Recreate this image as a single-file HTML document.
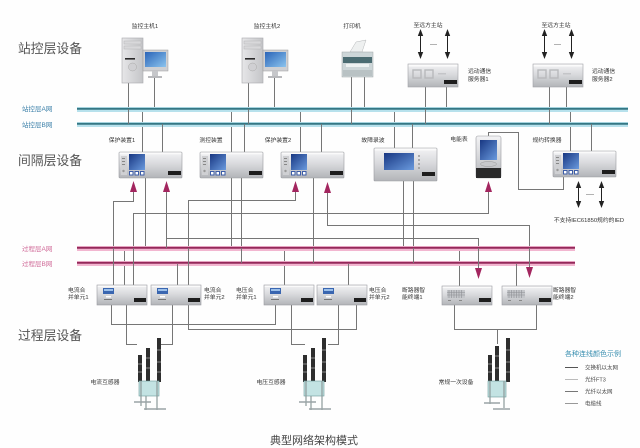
<!DOCTYPE html>
<html><head><meta charset="utf-8">
<style>
html,body{margin:0;padding:0;background:#fff;}
svg{display:block;}
text{font-family:"Liberation Sans","Noto Sans CJK SC",sans-serif;}
</style></head><body>
<svg width="640" height="448" viewBox="0 0 640 448" xmlns="http://www.w3.org/2000/svg">
<defs>
 <linearGradient id="dev" x1="0" y1="0" x2="0" y2="1">
  <stop offset="0" stop-color="#f3f3f5"/><stop offset="0.45" stop-color="#d9dadd"/><stop offset="1" stop-color="#b2b4b8"/>
 </linearGradient>
 <linearGradient id="scr" x1="0" y1="0" x2="1" y2="1">
  <stop offset="0" stop-color="#183782"/><stop offset="1" stop-color="#6a9ade"/>
 </linearGradient>
 <linearGradient id="mon" x1="0" y1="0" x2="1" y2="1">
  <stop offset="0" stop-color="#2a64b8"/><stop offset="1" stop-color="#8cc4ee"/>
 </linearGradient>
 <linearGradient id="twr" x1="0" y1="0" x2="1" y2="0">
  <stop offset="0" stop-color="#e6e6e8"/><stop offset="1" stop-color="#c4c5c8"/>
 </linearGradient>
 <g id="bay">
  <rect x="0" y="0" width="63" height="26" rx="1" fill="url(#dev)" stroke="#9a9ca0" stroke-width="0.6"/>
  <rect x="0.5" y="0.5" width="62" height="1.8" fill="#fafafa"/>
  <rect x="2" y="4" width="6" height="19" fill="#cfd0d3"/>
  <rect x="3" y="6" width="3" height="1" fill="#888"/>
  <rect x="3" y="9" width="3" height="1" fill="#888"/>
  <rect x="3" y="12" width="3" height="1" fill="#888"/>
  <circle cx="4.5" cy="19" r="1.2" fill="#999"/>
  <rect x="10" y="2" width="16" height="16" fill="url(#scr)"/>
  <rect x="10" y="19" width="4.5" height="4.5" fill="#3b5ca8"/><rect x="11" y="20" width="2.5" height="2.5" fill="#fff"/>
  <rect x="15.5" y="19" width="4.5" height="4.5" fill="#3b5ca8"/><rect x="16.5" y="20" width="2.5" height="2.5" fill="#fff"/>
  <rect x="21" y="19" width="4.5" height="4.5" fill="#3b5ca8"/><rect x="22" y="20" width="2.5" height="2.5" fill="#fff"/>
  <rect x="49" y="19" width="13" height="4" fill="#1e1e1e"/>
 </g>
 <g id="mu">
  <rect x="0" y="0" width="50" height="20" fill="url(#dev)" stroke="#9a9ca0" stroke-width="0.6"/>
  <rect x="0.5" y="0.5" width="49" height="1.5" fill="#fafafa"/>
  <rect x="6" y="3" width="11" height="6" fill="#3a66b0"/>
  <rect x="7" y="4" width="9" height="2" fill="#9cc0ea"/>
  <rect x="9" y="11" width="5" height="1.5" fill="#fff"/>
  <rect x="7" y="14" width="8" height="1" fill="#777"/>
  <rect x="37" y="13" width="12" height="4" fill="#1e1e1e"/>
 </g>
 <g id="brk">
  <rect x="0" y="0" width="50" height="19" fill="url(#dev)" stroke="#9a9ca0" stroke-width="0.6"/>
  <rect x="0.5" y="0.5" width="49" height="1.5" fill="#fafafa"/>
  <rect x="5" y="4" width="18" height="8" fill="#c4c6ca"/>
  <path d="M7 4v8M9.5 4v8M12 4v8M14.5 4v8M17 4v8M19.5 4v8M5 6.5h18M5 9h18" stroke="#8e9094" stroke-width="0.6"/>
  <rect x="6" y="14" width="3" height="1" fill="#888"/>
  <rect x="17" y="14" width="3" height="1" fill="#888"/>
  <rect x="37" y="12" width="12" height="4" fill="#1e1e1e"/>
 </g>
 <g id="srv">
  <rect x="0" y="0" width="50" height="23" fill="url(#dev)" stroke="#a0a2a6" stroke-width="0.6"/>
  <rect x="0.5" y="0.5" width="49" height="2" fill="#fbfbfb"/>
  <rect x="5" y="6" width="8" height="8" fill="none" stroke="#b8b9bc" stroke-width="1.4"/>
  <rect x="17" y="6" width="8" height="8" fill="none" stroke="#b8b9bc" stroke-width="1.4"/>
  <rect x="30" y="9" width="8" height="1.5" fill="#c4c5c8"/>
  <rect x="36" y="16" width="13" height="4" fill="#1e1e1e"/>
 </g>
</defs>

<rect width="640" height="448" fill="#fefefe"/>

<!-- headings -->
<text x="18" y="53" font-size="12.8" fill="#555">站控层设备</text>
<text x="18" y="165" font-size="12.8" fill="#555">间隔层设备</text>
<text x="18" y="340" font-size="12.8" fill="#555">过程层设备</text>

<text x="22" y="111" font-size="6.5" fill="#3a7fa8">站控层A网</text>
<text x="22" y="127" font-size="6.5" fill="#3a7fa8">站控层B网</text>
<text x="22" y="251" font-size="6.5" fill="#d06a98">过程层A网</text>
<text x="22" y="266" font-size="6.5" fill="#d06a98">过程层B网</text>

<!-- connectors (gray) -->
<g stroke="#767676" stroke-width="1" fill="none">
 <path d="M128.5 83V124M154.5 78V109M248.5 83V124M274.5 78V109M351.5 76V124M364.5 76V109M425.5 87V124M446.5 87V109M549.5 87V124M566.5 87V109"/>
 <path d="M142.5 109V152M162.5 124V152M231.5 109V152M244.5 124V152M300.5 109V152M321.5 124V152M394.5 109V148M412.5 124V148M570.5 109V151M591.5 124V151"/>
 <path d="M145.5 178V248M231.5 178V248M241.5 178V264M313.5 178V264M403.5 181V248M413.5 181V264"/>
 <path d="M133.5 192V201.5H113.5V285"/>
 <path d="M488.5 192V213.5H133.5V285"/>
 <path d="M166.5 192V238.5H478.5V269"/>
 <path d="M295.5 192V200.5H188.5V285"/>
 <path d="M327.5 192V225.5H529.5V268"/>
 <path d="M488.5 136V132.5H518.5V189.5H563.5V176"/>
 <path d="M124.5 248V285M177.5 264V285M284.5 248V285M348.5 264V285M459.5 248V286M516.5 264V286"/>
 <path d="M111.5 305V324.5H275.5V305"/>
 <path d="M126.5 305V344.5H137"/>
 <path d="M172.5 305V344.5H161"/>
 <path d="M188.5 305V329.5H356.5V305"/>
 <path d="M291.5 305V344.5H305"/>
 <path d="M338.5 305V344.5H328"/>
 <path d="M454.5 305V329.5H536.5V305M497.5 329V344"/>
</g>

<!-- network buses -->
<g>
 <line x1="77" y1="109.5" x2="628" y2="109.5" stroke="#b7e1ec" stroke-width="5"/>
 <line x1="77" y1="108.8" x2="628" y2="108.8" stroke="#357784" stroke-width="1.8"/>
 <line x1="77" y1="124.5" x2="628" y2="124.5" stroke="#b7e1ec" stroke-width="5"/>
 <line x1="77" y1="123.8" x2="628" y2="123.8" stroke="#357784" stroke-width="1.8"/>
 <line x1="77" y1="248.5" x2="575" y2="248.5" stroke="#f2b6d0" stroke-width="5"/>
 <line x1="77" y1="247.8" x2="575" y2="247.8" stroke="#94285a" stroke-width="1.8"/>
 <line x1="77" y1="263.5" x2="575" y2="263.5" stroke="#f2b6d0" stroke-width="5"/>
 <line x1="77" y1="262.8" x2="575" y2="262.8" stroke="#94285a" stroke-width="1.8"/>
</g>
<g stroke="#767676" stroke-width="1">
 <path d="M128.5 109V124M248.5 109V124M351.5 109V124M425.5 109V124M549.5 109V124M162.5 124V127M244.5 124V127M321.5 124V127M412.5 124V127M591.5 124V127"/>
 <path d="M241.5 248V263M313.5 248V263M413.5 248V263M133.5 248V285M113.5 248V285M188.5 248V285M166.5 248V238M478.5 248V269M529.5 248V268M177.5 264V267M348.5 264V267M516.5 264V267"/>
</g>

<!-- PC1 -->
<g>
 <rect x="122" y="38" width="21" height="45" fill="url(#twr)" stroke="#a8a9ac" stroke-width="0.6"/>
 <rect x="124" y="41" width="17" height="3" fill="#d8d8da" stroke="#b0b0b0" stroke-width="0.4"/>
 <rect x="124" y="46" width="17" height="3" fill="#d8d8da" stroke="#b0b0b0" stroke-width="0.4"/>
 <rect x="125" y="58" width="10" height="1.6" fill="#2a2a2a"/>
 <circle cx="132.5" cy="67" r="4" fill="#d0d0d3" stroke="#aaa" stroke-width="0.5"/>
 <rect x="143" y="50" width="25" height="21" fill="#cfd0d3" stroke="#9a9a9a" stroke-width="0.5"/>
 <rect x="145" y="52" width="21" height="15" fill="url(#mon)"/>
 <rect x="152" y="71" width="6" height="5" fill="#c6c7ca"/>
 <rect x="148" y="76" width="14" height="2" fill="#b8b9bc"/>
</g>
<!-- PC2 -->
<g>
 <rect x="242" y="38" width="21" height="45" fill="url(#twr)" stroke="#a8a9ac" stroke-width="0.6"/>
 <rect x="244" y="41" width="17" height="3" fill="#d8d8da" stroke="#b0b0b0" stroke-width="0.4"/>
 <rect x="244" y="46" width="17" height="3" fill="#d8d8da" stroke="#b0b0b0" stroke-width="0.4"/>
 <rect x="245" y="58" width="10" height="1.6" fill="#2a2a2a"/>
 <circle cx="252.5" cy="67" r="4" fill="#d0d0d3" stroke="#aaa" stroke-width="0.5"/>
 <rect x="263" y="50" width="25" height="21" fill="#cfd0d3" stroke="#9a9a9a" stroke-width="0.5"/>
 <rect x="265" y="52" width="21" height="15" fill="url(#mon)"/>
 <rect x="272" y="71" width="6" height="5" fill="#c6c7ca"/>
 <rect x="268" y="76" width="14" height="2" fill="#b8b9bc"/>
</g>
<!-- printer -->
<g>
 <polygon points="350,52 356,42 366,40 362,52" fill="#eef0f0" stroke="#b5b8b9" stroke-width="0.5"/>
 <rect x="342" y="52" width="31" height="25" fill="#cdd6d8" stroke="#a0a6a8" stroke-width="0.5"/>
 <rect x="343" y="57" width="29" height="6" fill="#4b6c72"/>
 <rect x="346" y="64" width="23" height="3" fill="#eef2f2"/>
 <rect x="343" y="70" width="29" height="6" fill="#b9c2c4"/>
</g>
<use href="#srv" x="408" y="64"/>
<use href="#srv" x="533" y="64"/>

<!-- double arrows -->
<g stroke="#222" stroke-width="1">
 <path d="M420.5 34V54M447.5 34V54M544.5 34V54M571.5 34V54M578.5 186V203M601.5 186V203"/>
</g>
<g fill="#222">
 <polygon points="420.5,29 417.8,36 423.2,36"/><polygon points="420.5,59 417.8,52 423.2,52"/>
 <polygon points="447.5,29 444.8,36 450.2,36"/><polygon points="447.5,59 444.8,52 450.2,52"/>
 <polygon points="544.5,29 541.8,36 547.2,36"/><polygon points="544.5,59 541.8,52 547.2,52"/>
 <polygon points="571.5,29 568.8,36 574.2,36"/><polygon points="571.5,59 568.8,52 574.2,52"/>
 <polygon points="578.5,181 575.8,188 581.2,188"/><polygon points="578.5,208 575.8,201 581.2,201"/>
 <polygon points="601.5,181 598.8,188 604.2,188"/><polygon points="601.5,208 598.8,201 604.2,201"/>
</g>
<g stroke="#999" stroke-width="0.8">
 <path d="M430 44.5H437M554 44.5H561M586 194.5H594"/>
</g>

<!-- bay devices -->
<use href="#bay" x="119" y="152"/>
<use href="#bay" x="200" y="152"/>
<use href="#bay" x="281" y="152"/>
<use href="#bay" x="553" y="151"/>
<g>
 <rect x="374" y="148" width="63" height="33" rx="1" fill="url(#dev)" stroke="#9a9ca0" stroke-width="0.6"/>
 <rect x="374.5" y="148.5" width="62" height="2" fill="#fafafa"/>
 <rect x="384" y="153" width="30" height="17" fill="url(#scr)"/>
 <circle cx="419" cy="156" r="1" fill="#999"/><circle cx="419" cy="160" r="1" fill="#999"/><circle cx="419" cy="164" r="1" fill="#999"/><circle cx="419" cy="168" r="1" fill="#999"/>
 <rect x="422" y="172" width="13" height="4" fill="#1e1e1e"/>
</g>
<g>
 <rect x="476" y="136" width="25" height="42" rx="2" fill="url(#dev)" stroke="#9a9ca0" stroke-width="0.6"/>
 <rect x="480" y="140" width="17" height="20" fill="url(#scr)"/>
 <ellipse cx="488.5" cy="164" rx="8" ry="2.5" fill="#c8c9cc" stroke="#999" stroke-width="0.5"/>
 <rect x="476" y="168" width="25" height="10" fill="#2a2a2a"/>
</g>

<!-- magenta arrows -->
<g fill="#a3265f">
 <polygon points="133.5,181 130,192 137,192"/>
 <polygon points="166.5,181 163,192 170,192"/>
 <polygon points="295.5,181 292,192 299,192"/>
 <polygon points="327.5,182 324,193 331,193"/>
 <polygon points="488.5,181 485,192 492,192"/>
 <polygon points="478.5,279 475,268 482,268"/>
 <polygon points="529.5,278 526,267 533,267"/>
</g>

<!-- process devices -->
<use href="#mu" x="97" y="285"/>
<use href="#mu" x="151" y="285"/>
<use href="#mu" x="264" y="285"/>
<use href="#mu" x="317" y="285"/>
<use href="#brk" x="442" y="286"/>
<use href="#brk" x="502" y="286"/>

<!-- primary equipment -->
<g>
 <rect x="138" y="355" width="4" height="27" fill="#2e2e2e"/>
 <rect x="146" y="348" width="4" height="34" fill="#2e2e2e"/>
 <rect x="157" y="338" width="4" height="44" fill="#2e2e2e"/>
 <path d="M138 364h4M138 372h4M146 358h4M146 368h4M157 350h4M157 362h4M157 372h4" stroke="#8a8a8a" stroke-width="1"/>
 <rect x="139" y="381" width="20" height="15" fill="#c3e3e3" stroke="#6a9898" stroke-width="0.6"/>
 <path d="M141 381V406M157 381V410M146 396V410" stroke="#8c9a9a" stroke-width="1.2"/>
 <path d="M134 402H151M144 409H166" stroke="#9aa4a6" stroke-width="1.6"/>
</g>
<g>
 <rect x="303" y="355" width="4" height="27" fill="#2e2e2e"/>
 <rect x="311" y="348" width="4" height="34" fill="#2e2e2e"/>
 <rect x="322" y="338" width="4" height="44" fill="#2e2e2e"/>
 <path d="M303 364h4M303 372h4M311 358h4M311 368h4M322 350h4M322 362h4M322 372h4" stroke="#8a8a8a" stroke-width="1"/>
 <rect x="304" y="381" width="20" height="15" fill="#c3e3e3" stroke="#6a9898" stroke-width="0.6"/>
 <path d="M306 381V406M322 381V410M311 396V410" stroke="#8c9a9a" stroke-width="1.2"/>
 <path d="M299 402H316M309 409H331" stroke="#9aa4a6" stroke-width="1.6"/>
</g>
<g>
 <rect x="488" y="355" width="4" height="27" fill="#2e2e2e"/>
 <rect x="495" y="346" width="4" height="36" fill="#2e2e2e"/>
 <rect x="506" y="338" width="4" height="44" fill="#2e2e2e"/>
 <path d="M488 364h4M488 372h4M495 356h4M495 368h4M506 350h4M506 362h4M506 372h4" stroke="#8a8a8a" stroke-width="1"/>
 <rect x="488" y="381" width="18" height="16" fill="#c3e3e3" stroke="#6a9898" stroke-width="0.6"/>
 <path d="M490 381V404M504 381V408" stroke="#8c9a9a" stroke-width="1.2"/>
 <path d="M484 403H500M493 409H510" stroke="#9aa4a6" stroke-width="1.6"/>
</g>

<!-- small labels -->
<g font-size="5.8" fill="#333" text-anchor="middle">
 <text x="145" y="28">监控主机1</text>
 <text x="267" y="28">监控主机2</text>
 <text x="352" y="28">打印机</text>
 <text x="428" y="27">至远方主站</text>
 <text x="556" y="27">至远方主站</text>
 <text x="122" y="142">保护装置1</text>
 <text x="211" y="142">测控装置</text>
 <text x="278" y="142">保护装置2</text>
 <text x="373" y="142">故障录波</text>
 <text x="459" y="141">电能表</text>
 <text x="547" y="142">规约转换器</text>
 <text x="589" y="222">不支持IEC61850规约的IED</text>
 <text x="105" y="384">电流互感器</text>
 <text x="271" y="384">电压互感器</text>
 <text x="456" y="384">常规一次设备</text>
</g>
<g font-size="5.8" fill="#333">
 <text x="468" y="73">远动通信</text>
 <text x="468" y="81">服务器1</text>
 <text x="592" y="73">远动通信</text>
 <text x="592" y="81">服务器2</text>
 <text x="68" y="292">电流合</text>
 <text x="68" y="299">并单元1</text>
 <text x="204" y="292">电流合</text>
 <text x="204" y="299">并单元2</text>
 <text x="236" y="292">电压合</text>
 <text x="236" y="299">并单元1</text>
 <text x="369" y="292">电压合</text>
 <text x="369" y="299">并单元2</text>
 <text x="402" y="292">断路器智</text>
 <text x="402" y="299">能终端1</text>
 <text x="553" y="292">断路器智</text>
 <text x="553" y="299">能终端2</text>
</g>

<!-- legend -->
<text x="565" y="356" font-size="7" fill="#3a8fb0">各种连线颜色示例</text>
<g stroke-width="1">
 <line x1="565" y1="367.5" x2="578" y2="367.5" stroke="#555"/>
 <line x1="565" y1="379.5" x2="578" y2="379.5" stroke="#bbb"/>
 <line x1="565" y1="391.5" x2="578" y2="391.5" stroke="#777"/>
 <line x1="565" y1="403.5" x2="578" y2="403.5" stroke="#999"/>
</g>
<g font-size="5.5" fill="#444">
 <text x="585" y="369.5">交换机以太网</text>
 <text x="585" y="381.5">光纤FT3</text>
 <text x="585" y="393.5">光纤以太网</text>
 <text x="585" y="405.5">电缆线</text>
</g>

<text x="314" y="444" font-size="11" fill="#444" text-anchor="middle">典型网络架构模式</text>
</svg>
</body></html>
